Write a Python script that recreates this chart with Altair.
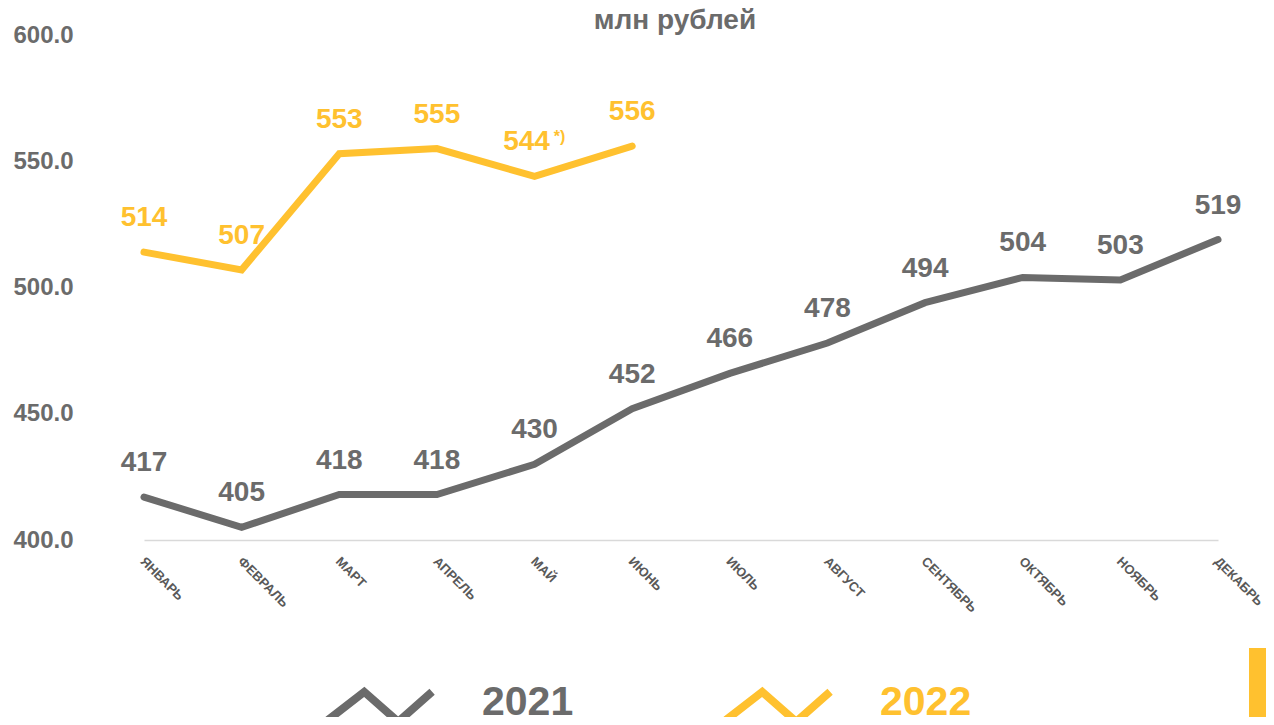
import altair as alt
import pandas as pd

months = ["ЯНВАРЬ", "ФЕВРАЛЬ", "МАРТ", "АПРЕЛЬ", "МАЙ", "ИЮНЬ",
          "ИЮЛЬ", "АВГУСТ", "СЕНТЯБРЬ", "ОКТЯБРЬ", "НОЯБРЬ", "ДЕКАБРЬ"]
values_2021 = [417, 405, 418, 418, 430, 452, 466, 478, 494, 504, 503, 519]
values_2022 = [514, 507, 553, 555, 544, 556]
years = ["2021", "2022"]
colors = ["#6B6B6B", "#FFC12F"]
y_ticks = [400, 450, 500, 550, 600]
note_month = "МАЙ"
note_year = "2022"
note_text = "*)"
title_text = "млн рублей"

rows = []
for m, v in zip(months, values_2021):
    rows.append({"month": m, "value": v, "year": years[0], "hex": colors[0]})
for m, v in zip(months, values_2022):
    rows.append({"month": m, "value": v, "year": years[1], "hex": colors[1]})
df = pd.DataFrame(rows)
df["label"] = df["value"].astype(str)
df["note"] = note_text

W, H = 1171, 505
FONT = "Liberation Sans"

x = alt.X("month:N", sort=months, scale=alt.Scale(type="point", padding=0, range=[49, 1123]),
          axis=alt.Axis(title=None, labelAngle=45, labelAlign="left", labelBaseline="middle",
                        labelFontSize=13, labelFontWeight="bold", labelColor="#595959",
                        labelPadding=19, labelOffset=-2, ticks=False, domainColor="#D9D9D9",
                        domainWidth=1.5, labelFont=FONT, labelOverlap=False))
y = alt.Y("value:Q", scale=alt.Scale(domain=[400, 600], nice=False, zero=False),
          axis=alt.Axis(title=None, values=y_ticks, format=".1f", grid=False, ticks=False,
                        domain=False, labelFontSize=24, labelFontWeight="bold",
                        labelColor="#6B6B6B", labelPadding=22, labelFont=FONT))

zigzag = "M-0.93,0.3 L-0.3,-0.19 L0.29,0.33 L0.88,-0.19"
legend = alt.Legend(
    orient="none", legendX=225, legendY=606, direction="horizontal", title=None,
    labelFontSize=41, labelFont=FONT, labelFontWeight="bold",
    labelOffset=39, columnPadding=136, padding=0, symbolType=zigzag, symbolSize=13225,
    symbolStrokeWidth=8,
    labelColor={"expr": f"datum.label == '{years[0]}' ? '{colors[0]}' : '{colors[1]}'"},
)
color = alt.Color("year:N", scale=alt.Scale(domain=years, range=colors), legend=legend)

base = alt.Chart(df)
lines = base.mark_line(strokeWidth=7, strokeCap="round").encode(x=x, y=y, color=color)

is_note = f"datum.year == '{note_year}' && datum.month == '{note_month}'"
labels = base.transform_filter(f"!({is_note})").mark_text(
    dy=-34, fontSize=28, fontWeight="bold", font=FONT
).encode(x=x, y=y, text="label:N", color=alt.Color("hex:N", scale=None))
note_label = base.transform_filter(is_note).mark_text(
    dy=-34, dx=-8, fontSize=28, fontWeight="bold", font=FONT
).encode(x=x, y=y, text="label:N", color=alt.Color("hex:N", scale=None))
note_star = base.transform_filter(is_note).mark_text(
    dy=-39, dx=25, fontSize=16, fontWeight="bold", font=FONT
).encode(x=x, y=y, text="note:N", color=alt.Color("hex:N", scale=None))

deco = pd.DataFrame({"t": [title_text]})
title = alt.Chart(deco).mark_text(fontSize=28, fontWeight="bold", color="#6B6B6B", font=FONT,
                                  baseline="alphabetic").encode(
    text="t:N", x=alt.value(580), y=alt.value(-6))
bar = alt.Chart(deco).mark_rect(color=colors[1]).encode(
    x=alt.value(1154), x2=alt.value(1171), y=alt.value(613), y2=alt.value(700))

chart = alt.layer(lines, labels, note_label, note_star, title, bar).properties(
    width=W, height=H,
    autosize=alt.AutoSizeParams(type="none"),
    padding={"left": 87, "top": 27, "right": 0, "bottom": 177},
).configure(font=FONT).configure_view(stroke=None)

chart.save("out.html", embed_options={"renderer": "svg", "actions": False})
